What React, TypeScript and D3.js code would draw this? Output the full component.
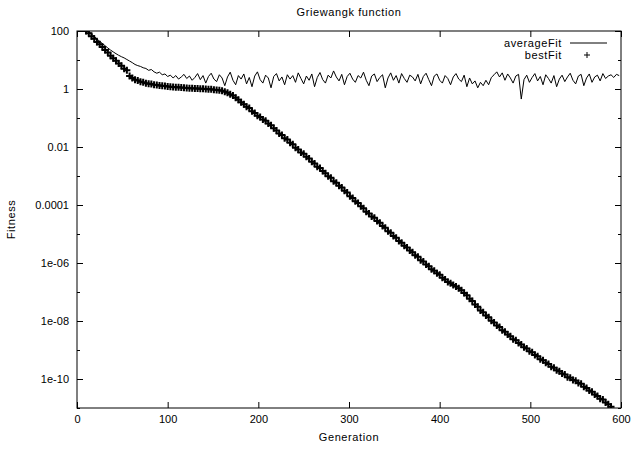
import { useEffect, useRef } from 'react';
import * as d3 from 'd3';

// one sample every 3rd generation
const generations = d3.range(10, 599, 3);

const averageFit = [
  130, 96, 79, 65, 53, 44, 37, 31, 26, 22,
  19, 16.5, 14.5, 13, 11.8, 10.4, 9.2, 8.1, 7.0, 6.4,
  6.0, 5.4, 5.1, 4.4, 4.7, 3.9, 3.5, 3.8, 3.1, 3.3,
  2.7, 3.0, 2.4, 2.9, 2.2, 2.6, 3.2, 2.3, 2.8, 2.0,
  2.5, 3.4, 2.1, 2.9, 1.6, 2.7, 3.5, 2.2, 1.8, 3.1,
  2.4, 1.3, 2.6, 3.8, 2.0, 1.4, 2.9, 2.2, 3.3, 1.5,
  2.5, 1.2, 2.8, 3.9, 2.1, 1.6, 3.0, 2.4, 1.1, 2.7,
  3.4, 1.9, 2.6, 1.4, 3.1, 2.2, 2.9, 1.7, 3.6, 2.3,
  1.5, 2.8, 2.0, 3.3, 1.2, 2.5, 3.7, 2.1, 1.6, 3.0,
  2.4, 4.2, 2.6, 1.9, 3.2, 1.4, 2.7, 3.5, 2.2, 1.7,
  2.9, 2.4, 3.8, 2.0, 1.3, 2.8, 3.3, 1.8, 2.5, 3.1,
  1.1, 2.4, 3.6, 2.0, 2.9, 1.6, 3.4, 2.3, 1.7, 3.0,
  2.6, 1.9, 3.2, 1.5, 2.7, 3.5, 2.1, 1.3, 2.8, 3.3,
  2.0, 1.6, 2.9, 2.3, 1.4, 2.6, 3.4, 2.2, 1.8, 3.0,
  1.2, 2.4, 1.5, 1.9, 1.1, 1.7, 1.3, 2.0, 1.4, 2.5,
  3.1, 3.9, 2.6, 3.6, 2.0, 3.3, 2.4, 1.6, 2.8, 3.2,
  0.45, 2.1, 3.0, 1.7, 2.5, 3.4, 1.9, 2.7, 1.4, 3.1,
  2.3, 1.6, 2.9, 1.2, 2.2, 3.0, 1.8, 2.6, 3.5, 2.0,
  1.5, 2.8, 3.2, 1.3, 2.4, 3.3, 1.7, 2.6, 3.0, 1.9,
  3.4, 2.3, 2.8, 3.1, 2.5, 3.2, 2.9,
];

const bestFit = [
  100, 83, 66, 54, 42, 35, 28, 22, 18, 14,
  11.5, 9.5, 7.6, 6.3, 5.0, 4.4, 2.8, 2.4, 2.1, 1.95,
  1.78, 1.70, 1.58, 1.51, 1.48, 1.41, 1.38, 1.32, 1.29, 1.26,
  1.23, 1.20, 1.17, 1.15, 1.14, 1.12, 1.10, 1.09, 1.07, 1.06,
  1.05, 1.04, 1.02, 1.01, 1.00, 0.99, 0.98, 0.95, 0.93, 0.91,
  0.87, 0.81, 0.74, 0.66, 0.60, 0.50, 0.43, 0.35, 0.30, 0.245,
  0.22, 0.170, 0.150, 0.12, 0.108, 0.088, 0.080, 0.064, 0.056, 0.044,
  0.037, 0.029, 0.026, 0.020, 0.018, 0.014, 0.0125, 0.0095, 0.0082, 0.0064,
  0.0058, 0.0046, 0.0040, 0.0031, 0.0027, 0.0021, 0.0019, 0.0015, 0.00125, 0.00098,
  8.7e-4, 6.6e-4, 5.9e-4, 4.6e-4, 4.0e-4, 3.1e-4, 2.7e-4, 2.0e-4, 1.75e-4, 1.35e-4,
  1.18e-4, 9.0e-5, 7.8e-5, 5.9e-5, 5.1e-5, 4.0e-5, 3.6e-5, 2.8e-5, 2.45e-5, 1.9e-5,
  1.65e-5, 1.25e-5, 1.1e-5, 8.5e-6, 7.4e-6, 5.7e-6, 5.0e-6, 3.9e-6, 3.4e-6, 2.7e-6,
  2.35e-6, 1.85e-6, 1.65e-6, 1.25e-6, 1.12e-6, 8.9e-7, 7.8e-7, 6.1e-7, 5.4e-7, 4.4e-7,
  3.9e-7, 3.1e-7, 2.7e-7, 2.2e-7, 2.0e-7, 1.75e-7, 1.55e-7, 1.35e-7, 1.15e-7, 9.2e-8,
  7.8e-8, 5.8e-8, 4.9e-8, 3.7e-8, 3.1e-8, 2.3e-8, 2.0e-8, 1.55e-8, 1.35e-8, 1.02e-8,
  8.9e-9, 7.0e-9, 6.2e-9, 4.8e-9, 4.3e-9, 3.4e-9, 3.0e-9, 2.35e-9, 2.15e-9, 1.75e-9,
  1.55e-9, 1.25e-9, 1.12e-9, 9.0e-10, 8.3e-10, 6.7e-10, 6.1e-10, 4.8e-10, 4.4e-10, 3.6e-10,
  3.3e-10, 2.65e-10, 2.45e-10, 2.0e-10, 1.85e-10, 1.55e-10, 1.42e-10, 1.15e-10, 1.1e-10, 9.2e-11,
  8.7e-11, 7.3e-11, 6.8e-11, 5.4e-11, 4.9e-11, 4.0e-11, 3.6e-11, 2.9e-11, 2.6e-11, 2.1e-11,
  1.95e-11, 1.55e-11, 1.35e-11, 1.1e-11,
];

const xTicks = [0, 100, 200, 300, 400, 500, 600];
const yMajorTicks = [1e2, 1, 1e-2, 1e-4, 1e-6, 1e-8, 1e-10];
const yMajorLabels = ['100', '1', '0.01', '0.0001', '1e-06', '1e-08', '1e-10'];
const yMinorTicks = [1e1, 1e-1, 1e-3, 1e-5, 1e-7, 1e-9, 1e-11];

const WIDTH = 631;
const HEIGHT = 449;
const FONT = '"Liberation Sans", Arial, sans-serif';

const App = () => {
  const ref = useRef<SVGSVGElement>(null);

  useEffect(() => {
    const left = 77, top = 31, right = 621, bottom = 408;

    const svg = d3.select(ref.current);
    svg.selectAll('*').remove();

    const x = d3.scaleLinear().domain([0, 600]).range([left, right]);
    const y = d3.scaleLog().domain([1e-11, 1e2]).range([bottom, top]);

    svg.append('defs').append('clipPath').attr('id', 'plot-clip')
      .append('rect')
      .attr('x', left).attr('y', top)
      .attr('width', right - left).attr('height', bottom - top);

    const styleAxis = (g) => {
      g.select('.domain').remove();
      g.selectAll('line').attr('stroke', '#000');
      g.selectAll('text')
        .attr('font-family', FONT)
        .attr('font-size', 11)
        .attr('fill', '#000');
    };

    // left axis, labelled decades and unlabelled odd decades
    svg.append('g')
      .attr('transform', `translate(${left},0)`)
      .call(d3.axisLeft(y).tickValues(yMajorTicks)
        .tickFormat((d, i) => yMajorLabels[i])
        .tickSizeInner(-6).tickSizeOuter(0).tickPadding(8))
      .call(styleAxis);
    svg.append('g')
      .attr('transform', `translate(${left},0)`)
      .call(d3.axisLeft(y).tickValues(yMinorTicks).tickFormat(() => '')
        .tickSizeInner(-3).tickSizeOuter(0))
      .call(styleAxis);

    // mirrored ticks on the right
    svg.append('g')
      .attr('transform', `translate(${right},0)`)
      .call(d3.axisRight(y).tickValues(yMajorTicks).tickFormat(() => '')
        .tickSizeInner(-6).tickSizeOuter(0))
      .call(styleAxis);
    svg.append('g')
      .attr('transform', `translate(${right},0)`)
      .call(d3.axisRight(y).tickValues(yMinorTicks).tickFormat(() => '')
        .tickSizeInner(-3).tickSizeOuter(0))
      .call(styleAxis);

    svg.append('g')
      .attr('transform', `translate(0,${bottom})`)
      .call(d3.axisBottom(x).tickValues(xTicks).tickFormat(d3.format('d'))
        .tickSizeInner(-6).tickSizeOuter(0).tickPadding(7))
      .call(styleAxis);
    svg.append('g')
      .attr('transform', `translate(0,${top})`)
      .call(d3.axisTop(x).tickValues(xTicks).tickFormat(() => '')
        .tickSizeInner(-6).tickSizeOuter(0))
      .call(styleAxis);

    svg.append('rect')
      .attr('x', left).attr('y', top)
      .attr('width', right - left).attr('height', bottom - top)
      .attr('fill', 'none').attr('stroke', '#000').attr('stroke-width', 1);

    const plot = svg.append('g').attr('clip-path', 'url(#plot-clip)');

    const line = d3.line<number>()
      .x((d, i) => x(generations[i]))
      .y(d => y(d));

    plot.append('path')
      .datum(averageFit)
      .attr('d', line)
      .attr('fill', 'none')
      .attr('stroke', '#000')
      .attr('stroke-width', 1);

    const bigPlus = 'M-3.5,0H3.5M0,-3.5V3.5';
    plot.selectAll('path.best')
      .data(bestFit)
      .enter()
      .append('path')
      .attr('class', 'best')
      .attr('transform', (d, i) => `translate(${x(generations[i])},${y(d)})`)
      .attr('d', bigPlus)
      .attr('fill', 'none')
      .attr('stroke', '#000')
      .attr('stroke-width', 2);

    // legend
    const legend = svg.append('g')
      .attr('font-family', FONT)
      .attr('font-size', 11)
      .attr('letter-spacing', 0.6)
      .attr('fill', '#000');
    legend.append('text')
      .attr('x', 562).attr('y', 43).attr('dy', '0.35em')
      .attr('text-anchor', 'end')
      .text('averageFit');
    legend.append('line')
      .attr('x1', 570).attr('x2', 607)
      .attr('y1', 43).attr('y2', 43)
      .attr('stroke', '#000');
    legend.append('text')
      .attr('x', 562).attr('y', 55).attr('dy', '0.35em')
      .attr('text-anchor', 'end')
      .text('bestFit');
    legend.append('path')
      .attr('transform', 'translate(587,55)')
      .attr('d', 'M-3,0H3M0,-3V3')
      .attr('stroke', '#000');

    const titles = svg.append('g')
      .attr('font-family', FONT)
      .attr('font-size', 11)
      .attr('letter-spacing', 0.6)
      .attr('fill', '#000')
      .attr('text-anchor', 'middle');
    titles.append('text')
      .attr('x', (left + right) / 2).attr('y', 12).attr('dy', '0.35em')
      .text('Griewangk function');
    titles.append('text')
      .attr('x', (left + right) / 2).attr('y', 437).attr('dy', '0.35em')
      .text('Generation');
    titles.append('text')
      .attr('transform', `translate(11,${(top + bottom) / 2}) rotate(-90)`)
      .attr('dy', '0.35em')
      .text('Fitness');
  }, []);

  return (
    <svg
      ref={ref}
      width={WIDTH}
      height={HEIGHT}
      style={{ position: 'absolute', left: 0, top: 0, background: '#fff' }}
    />
  );
};

export default App;
